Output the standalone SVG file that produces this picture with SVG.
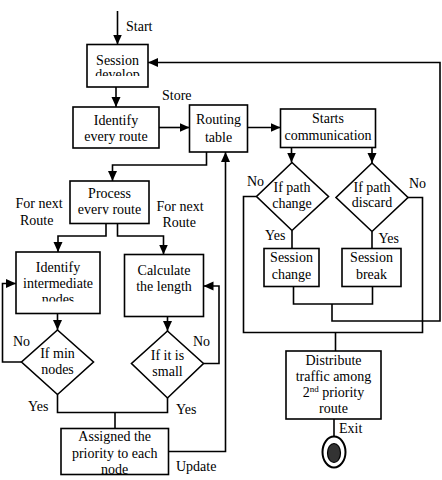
<svg xmlns="http://www.w3.org/2000/svg" width="442" height="480" viewBox="0 0 442 480">
<style>
.b{fill:#fff;stroke:#000;stroke-width:1.6}
.c{fill:none;stroke:#000;stroke-width:1.6}
.t{font-size:14px;fill:#000;text-anchor:middle}
.l{font-size:14px;fill:#000}
</style>
<defs>
<marker id="a" markerUnits="userSpaceOnUse" markerWidth="10" markerHeight="10" refX="10" refY="4.5" orient="auto"><path d="M0,0 L10,4.5 L0,9 z" fill="#000"/></marker>
<clipPath id="k1"><rect x="87" y="44" width="61" height="32"/></clipPath>
<clipPath id="k2"><rect x="70" y="181" width="79" height="33.5"/></clipPath>
<clipPath id="k3"><rect x="16" y="252" width="84" height="49.5"/></clipPath>
<clipPath id="k4"><rect x="61" y="428" width="107.5" height="46"/></clipPath>
</defs>
<rect width="442" height="480" fill="#fff"/>
<g id="connectors" class="c">
<path d="M117.5,11 V44.5" marker-end="url(#a)"/>
<path d="M116,87 V107" marker-end="url(#a)"/>
<path d="M159,127.5 H189.5" marker-end="url(#a)"/>
<path d="M247.5,127.5 H280.5" marker-end="url(#a)"/>
<path d="M291.5,147.5 V162.5" marker-end="url(#a)"/>
<path d="M372,147.5 V163" marker-end="url(#a)"/>
<path d="M206.5,152 V165 H112.5 V181" marker-end="url(#a)"/>
<path d="M106,223.5 V236 H58 V252" marker-end="url(#a)"/>
<path d="M117.5,223.5 V236 H163.5 V254.5" marker-end="url(#a)"/>
<path d="M57.5,313.5 V330" marker-end="url(#a)"/>
<path d="M167.5,316.5 V331" marker-end="url(#a)"/>
<path d="M21.5,362 H2.5 V283.5 H16" marker-end="url(#a)"/>
<path d="M203.5,363.5 H219 V286 H203.5" marker-end="url(#a)"/>
<path d="M57.5,394.5 V412.5 H167.5 V398"/>
<path d="M115,412.5 V428.5"/>
<path d="M168.5,451.5 H225.5 V152" marker-end="url(#a)"/>
<path d="M256.5,196.5 H243.5 V332.5 H422.5 V197.5 H408"/>
<path d="M292,230.5 V248.5"/>
<path d="M372,231.5 V248.5"/>
<path d="M293.5,286.5 V304 H372.5 V286.5"/>
<path d="M332,304 V321 H440 V62.5 H148" marker-end="url(#a)"/>
<path d="M335.5,332.5 V351"/>
<path d="M334,419 V437"/>
</g>
<g font-family="'Liberation Serif', 'DejaVu Serif', 'Times New Roman', serif">
<g id="labels">
<text class="l" x="126" y="31">Start</text>
<text class="l" x="162" y="100">Store</text>
<text class="l" x="15.5" y="208">For next</text>
<text class="l" x="20" y="224.5">Route</text>
<text class="l" x="156.5" y="210.5">For next</text>
<text class="l" x="162.5" y="226.5">Route</text>
<text class="l" x="13" y="346">No</text>
<text class="l" x="193" y="346">No</text>
<text class="l" x="28" y="411">Yes</text>
<text class="l" x="176" y="413.5">Yes</text>
<text class="l" x="247" y="186">No</text>
<text class="l" x="409" y="187.5">No</text>
<text class="l" x="265" y="240">Yes</text>
<text class="l" x="378.5" y="242.5">Yes</text>
<text class="l" x="339" y="433">Exit</text>
<text class="l" x="176" y="471">Update</text>
</g>
<g id="session-develop">
<rect class="b" x="87" y="44.5" width="61" height="42.5"/>
<text class="t" x="117.5" y="64.5">Session</text>
<text class="t" x="117.5" y="79" clip-path="url(#k1)">develop</text>
</g>
<g id="identify-every-route">
<rect class="b" x="73" y="107" width="86" height="41"/>
<text class="t" x="116" y="125">Identify</text>
<text class="t" x="116" y="141">every route</text>
</g>
<g id="routing-table">
<rect class="b" x="189.5" y="105" width="58" height="47"/>
<text class="t" x="218.5" y="124">Routing</text>
<text class="t" x="218.5" y="142">table</text>
</g>
<g id="starts-communication">
<rect class="b" x="280.5" y="109" width="95" height="38.5"/>
<text class="t" x="328" y="123">Starts</text>
<text class="t" x="328" y="139.5">communication</text>
</g>
<g id="process-every-route">
<rect class="b" x="70" y="181" width="79" height="42.5"/>
<text class="t" x="109.5" y="197.5">Process</text>
<text class="t" x="109.5" y="213.5" clip-path="url(#k2)">every route</text>
</g>
<g id="identify-intermediate-nodes">
<rect class="b" x="16" y="252" width="84" height="61.5"/>
<text class="t" x="58" y="271.5">Identify</text>
<text class="t" x="58" y="288">intermediate</text>
<text class="t" x="58" y="304" clip-path="url(#k3)">nodes</text>
</g>
<g id="calculate-length">
<rect class="b" x="124.5" y="254.5" width="79" height="62"/>
<text class="t" x="164" y="275">Calculate</text>
<text class="t" x="164" y="291">the length</text>
</g>
<g id="if-min-nodes">
<polygon class="b" points="57.5,330 93.5,362 57.5,394.5 21.5,362"/>
<text class="t" x="57.5" y="357.5">If min</text>
<text class="t" x="57.5" y="374">nodes</text>
</g>
<g id="if-small">
<polygon class="b" points="167.5,331 203.5,363.5 167.5,398 131.5,363.5"/>
<text class="t" x="167.5" y="360">If it is</text>
<text class="t" x="167.5" y="376">small</text>
</g>
<g id="assigned-priority">
<rect class="b" x="61" y="428.5" width="107.5" height="46"/>
<text class="t" x="114.7" y="441">Assigned the</text>
<text class="t" x="114.7" y="457.5">priority to each</text>
<text class="t" x="114.7" y="474" clip-path="url(#k4)">node</text>
</g>
<g id="if-path-change">
<polygon class="b" points="292,162.5 328.5,196.5 292,230.5 256.5,196.5"/>
<text class="t" x="292" y="191.5">If path</text>
<text class="t" x="292" y="207.5">change</text>
</g>
<g id="if-path-discard">
<polygon class="b" points="372,163 408,197.5 372,231.5 336,197.5"/>
<text class="t" x="372" y="191.5">If path</text>
<text class="t" x="372" y="207">discard</text>
</g>
<g id="session-change">
<rect class="b" x="264" y="248.5" width="55" height="38"/>
<text class="t" x="291.5" y="262">Session</text>
<text class="t" x="291.5" y="278.5">change</text>
</g>
<g id="session-break">
<rect class="b" x="342" y="248.5" width="59" height="38"/>
<text class="t" x="371.5" y="262">Session</text>
<text class="t" x="371.5" y="278.5">break</text>
</g>
<g id="distribute-traffic">
<rect class="b" x="286" y="351" width="95" height="68"/>
<text class="t" x="333.5" y="364.5">Distribute</text>
<text class="t" x="333.5" y="380.5">traffic among</text>
<text class="t" x="333.5" y="396.5">2<tspan font-size="9" dy="-5">nd</tspan><tspan dy="5"> priority</tspan></text>
<text class="t" x="333.5" y="412.5">route</text>
</g>
</g>
<g id="exit">
<ellipse cx="334" cy="452" rx="11.5" ry="15.5" fill="#fff" stroke="#000" stroke-width="2"/>
<ellipse cx="334" cy="453" rx="6.5" ry="9.5" fill="#333" stroke="#000" stroke-width="1.2"/>
</g>
</svg>
